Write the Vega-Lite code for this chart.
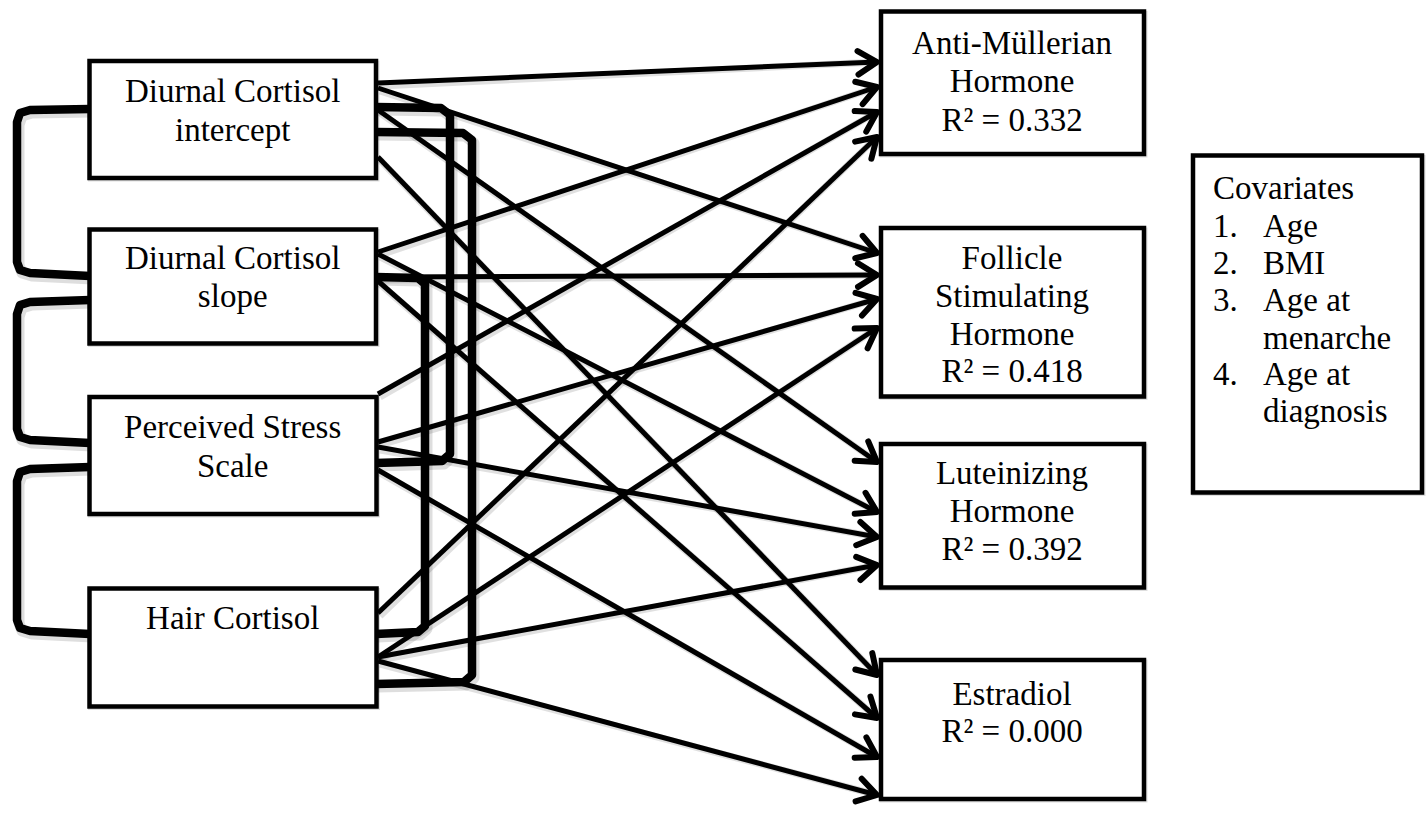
{
  "$schema": "https://vega.github.io/schema/vega-lite/v6.json",
  "width": 1426,
  "height": 831,
  "padding": 0,
  "autosize": {"type": "fit", "contains": "padding"},
  "background": "white",
  "config": {"view": {"stroke": null}},
  "datasets": {
    "boxes": [
      {"id": "intercept", "x": 89.5, "x2": 376, "y": 61, "y2": 178},
      {"id": "slope", "x": 89.5, "x2": 376, "y": 229.5, "y2": 343.5},
      {"id": "pss", "x": 89.5, "x2": 376.5, "y": 397, "y2": 514},
      {"id": "hair", "x": 89.5, "x2": 376.5, "y": 588.5, "y2": 706.5},
      {"id": "amh", "x": 881, "x2": 1144, "y": 11.5, "y2": 154},
      {"id": "fsh", "x": 881, "x2": 1144, "y": 228, "y2": 396.5},
      {"id": "lh", "x": 881, "x2": 1144, "y": 444, "y2": 587.5},
      {"id": "e2", "x": 881, "x2": 1144, "y": 660, "y2": 799},
      {"id": "cov", "x": 1193, "x2": 1422, "y": 155.5, "y2": 492.5}
    ],
    "arrows": [
      {"from": "intercept", "to": "amh", "x": 378, "y": 83, "x2": 877, "y2": 62},
      {"from": "intercept", "to": "fsh", "x": 378, "y": 88, "x2": 877, "y2": 253},
      {"from": "intercept", "to": "lh", "x": 378, "y": 110, "x2": 877, "y2": 462},
      {"from": "intercept", "to": "e2", "x": 378, "y": 157, "x2": 877, "y2": 675},
      {"from": "slope", "to": "amh", "x": 378, "y": 252, "x2": 877, "y2": 87},
      {"from": "slope", "to": "fsh", "x": 378, "y": 277, "x2": 877, "y2": 275},
      {"from": "slope", "to": "lh", "x": 378, "y": 254, "x2": 877, "y2": 512},
      {"from": "slope", "to": "e2", "x": 378, "y": 281, "x2": 877, "y2": 718},
      {"from": "pss", "to": "amh", "x": 378, "y": 394, "x2": 877, "y2": 112},
      {"from": "pss", "to": "fsh", "x": 378, "y": 442, "x2": 877, "y2": 299},
      {"from": "pss", "to": "lh", "x": 378, "y": 447, "x2": 877, "y2": 537},
      {"from": "pss", "to": "e2", "x": 378, "y": 470, "x2": 877, "y2": 757},
      {"from": "hair", "to": "amh", "x": 378, "y": 613, "x2": 877, "y2": 137},
      {"from": "hair", "to": "fsh", "x": 378, "y": 657, "x2": 877, "y2": 328},
      {"from": "hair", "to": "lh", "x": 378, "y": 657, "x2": 877, "y2": 565},
      {"from": "hair", "to": "e2", "x": 378, "y": 661, "x2": 877, "y2": 795}
    ],
    "brackets": [
      {"id": "L1", "o": 1, "x": 90, "y": 109},
      {"id": "L1", "o": 2, "x": 30, "y": 110},
      {"id": "L1", "o": 3, "x": 20, "y": 113},
      {"id": "L1", "o": 4, "x": 17, "y": 122},
      {"id": "L1", "o": 5, "x": 17, "y": 262},
      {"id": "L1", "o": 6, "x": 20, "y": 270},
      {"id": "L1", "o": 7, "x": 30, "y": 273},
      {"id": "L1", "o": 8, "x": 90, "y": 276},
      {"id": "L2", "o": 1, "x": 90, "y": 300},
      {"id": "L2", "o": 2, "x": 30, "y": 302},
      {"id": "L2", "o": 3, "x": 20, "y": 305},
      {"id": "L2", "o": 4, "x": 17, "y": 314},
      {"id": "L2", "o": 5, "x": 17, "y": 429},
      {"id": "L2", "o": 6, "x": 20, "y": 437},
      {"id": "L2", "o": 7, "x": 30, "y": 440},
      {"id": "L2", "o": 8, "x": 90, "y": 443},
      {"id": "L3", "o": 1, "x": 90, "y": 467},
      {"id": "L3", "o": 2, "x": 30, "y": 469},
      {"id": "L3", "o": 3, "x": 20, "y": 472},
      {"id": "L3", "o": 4, "x": 17, "y": 481},
      {"id": "L3", "o": 5, "x": 17, "y": 620},
      {"id": "L3", "o": 6, "x": 20, "y": 628},
      {"id": "L3", "o": 7, "x": 30, "y": 631},
      {"id": "L3", "o": 8, "x": 90, "y": 634},
      {"id": "R1", "o": 1, "x": 376, "y": 107},
      {"id": "R1", "o": 2, "x": 441, "y": 108},
      {"id": "R1", "o": 3, "x": 450, "y": 115},
      {"id": "R1", "o": 4, "x": 450, "y": 454},
      {"id": "R1", "o": 5, "x": 442, "y": 461},
      {"id": "R1", "o": 6, "x": 376, "y": 463},
      {"id": "R2", "o": 1, "x": 376, "y": 132},
      {"id": "R2", "o": 2, "x": 463, "y": 133},
      {"id": "R2", "o": 3, "x": 472, "y": 140},
      {"id": "R2", "o": 4, "x": 472, "y": 675},
      {"id": "R2", "o": 5, "x": 464, "y": 682},
      {"id": "R2", "o": 6, "x": 376, "y": 684},
      {"id": "R3", "o": 1, "x": 376, "y": 277},
      {"id": "R3", "o": 2, "x": 418, "y": 278},
      {"id": "R3", "o": 3, "x": 425, "y": 284},
      {"id": "R3", "o": 4, "x": 425, "y": 626},
      {"id": "R3", "o": 5, "x": 418, "y": 632},
      {"id": "R3", "o": 6, "x": 376, "y": 634}
    ],
    "labels": [
      {"box": "intercept", "text": "Diurnal Cortisol", "x": 232.7, "y": 101.7},
      {"box": "intercept", "text": "intercept", "x": 232.7, "y": 140.5},
      {"box": "slope", "text": "Diurnal Cortisol", "x": 232.7, "y": 269.3},
      {"box": "slope", "text": "slope", "x": 232.7, "y": 307.3},
      {"box": "pss", "text": "Perceived Stress", "x": 232.7, "y": 437.7},
      {"box": "pss", "text": "Scale", "x": 232.7, "y": 476.5},
      {"box": "hair", "text": "Hair Cortisol", "x": 232.7, "y": 629.3},
      {"box": "amh", "text": "Anti-Müllerian", "x": 1012, "y": 54.3},
      {"box": "amh", "text": "Hormone", "x": 1012, "y": 92.3},
      {"box": "amh", "text": "R² = 0.332", "x": 1012, "y": 130.7},
      {"box": "fsh", "text": "Follicle", "x": 1012, "y": 269.3},
      {"box": "fsh", "text": "Stimulating", "x": 1012, "y": 306.7},
      {"box": "fsh", "text": "Hormone", "x": 1012, "y": 345},
      {"box": "fsh", "text": "R² = 0.418", "x": 1012, "y": 382.3},
      {"box": "lh", "text": "Luteinizing", "x": 1012, "y": 484},
      {"box": "lh", "text": "Hormone", "x": 1012, "y": 521.7},
      {"box": "lh", "text": "R² = 0.392", "x": 1012, "y": 560},
      {"box": "e2", "text": "Estradiol", "x": 1012, "y": 705},
      {"box": "e2", "text": "R² = 0.000", "x": 1012, "y": 741.7}
    ],
    "covariates": [
      {"text": "Covariates", "x": 1213, "y": 199.3},
      {"text": "1.", "x": 1213, "y": 237.3},
      {"text": "Age", "x": 1263, "y": 237.3},
      {"text": "2.", "x": 1213, "y": 274},
      {"text": "BMI", "x": 1263, "y": 274},
      {"text": "3.", "x": 1213, "y": 310.7},
      {"text": "Age at", "x": 1263, "y": 310.7},
      {"text": "menarche", "x": 1263, "y": 349},
      {"text": "4.", "x": 1213, "y": 385},
      {"text": "Age at", "x": 1263, "y": 385},
      {"text": "diagnosis", "x": 1263, "y": 421.7}
    ]
  },
  "layer": [
    {
      "data": {"name": "brackets"},
      "mark": {"type": "line", "color": "black", "opacity": 0.13, "strokeWidth": 11, "strokeJoin": "round", "strokeCap": "butt", "xOffset": 2, "yOffset": 3},
      "encoding": {
        "x": {"field": "x", "type": "quantitative", "scale": {"domain": [0, 1426], "nice": false, "zero": false}, "axis": null},
        "y": {"field": "y", "type": "quantitative", "scale": {"domain": [0, 831], "nice": false, "zero": false, "reverse": true}, "axis": null},
        "detail": {"field": "id", "type": "nominal"},
        "order": {"field": "o", "type": "quantitative"}
      }
    },
    {
      "data": {"name": "arrows"},
      "mark": {"type": "rule", "color": "black", "opacity": 0.12, "strokeWidth": 7, "strokeCap": "butt", "xOffset": 2, "yOffset": 3},
      "encoding": {
        "x": {"field": "x", "type": "quantitative"},
        "y": {"field": "y", "type": "quantitative"},
        "x2": {"field": "x2"},
        "y2": {"field": "y2"}
      }
    },
    {
      "data": {"name": "brackets"},
      "mark": {"type": "line", "color": "black", "strokeWidth": 8.5, "strokeJoin": "round", "strokeCap": "butt"},
      "encoding": {
        "x": {"field": "x", "type": "quantitative"},
        "y": {"field": "y", "type": "quantitative"},
        "detail": {"field": "id", "type": "nominal"},
        "order": {"field": "o", "type": "quantitative"}
      }
    },
    {
      "data": {"name": "arrows"},
      "mark": {"type": "rule", "color": "black", "strokeWidth": 5, "strokeCap": "butt"},
      "encoding": {
        "x": {"field": "x", "type": "quantitative"},
        "y": {"field": "y", "type": "quantitative"},
        "x2": {"field": "x2"},
        "y2": {"field": "y2"}
      }
    },
    {
      "data": {"name": "arrows"},
      "transform": [{"calculate": "atan2(datum.y2 - datum.y, datum.x2 - datum.x) * 180 / PI", "as": "ang"}],
      "mark": {"type": "point", "shape": "M -1 -0.62 L 0 0 L -1 0.62", "filled": false, "stroke": "black", "strokeWidth": 6, "strokeJoin": "round", "strokeCap": "round", "size": 1444, "opacity": 1},
      "encoding": {
        "x": {"field": "x2", "type": "quantitative"},
        "y": {"field": "y2", "type": "quantitative"},
        "angle": {"field": "ang", "type": "quantitative", "scale": null}
      }
    },
    {
      "data": {"name": "boxes"},
      "mark": {"type": "rect", "fill": null, "stroke": "black", "opacity": 0.13, "strokeWidth": 7, "xOffset": 2, "yOffset": 3},
      "encoding": {
        "x": {"field": "x", "type": "quantitative"},
        "x2": {"field": "x2"},
        "y": {"field": "y", "type": "quantitative"},
        "y2": {"field": "y2"}
      }
    },
    {
      "data": {"name": "boxes"},
      "mark": {"type": "rect", "fill": "white", "stroke": "black", "strokeWidth": 4.5},
      "encoding": {
        "x": {"field": "x", "type": "quantitative"},
        "x2": {"field": "x2"},
        "y": {"field": "y", "type": "quantitative"},
        "y2": {"field": "y2"}
      }
    },
    {
      "data": {"name": "labels"},
      "mark": {"type": "text", "font": "Liberation Serif", "fontSize": 33, "align": "center", "baseline": "alphabetic", "color": "black"},
      "encoding": {
        "x": {"field": "x", "type": "quantitative"},
        "y": {"field": "y", "type": "quantitative"},
        "text": {"field": "text"}
      }
    },
    {
      "data": {"name": "covariates"},
      "mark": {"type": "text", "font": "Liberation Serif", "fontSize": 33, "align": "left", "baseline": "alphabetic", "color": "black"},
      "encoding": {
        "x": {"field": "x", "type": "quantitative"},
        "y": {"field": "y", "type": "quantitative"},
        "text": {"field": "text"}
      }
    }
  ]
}
